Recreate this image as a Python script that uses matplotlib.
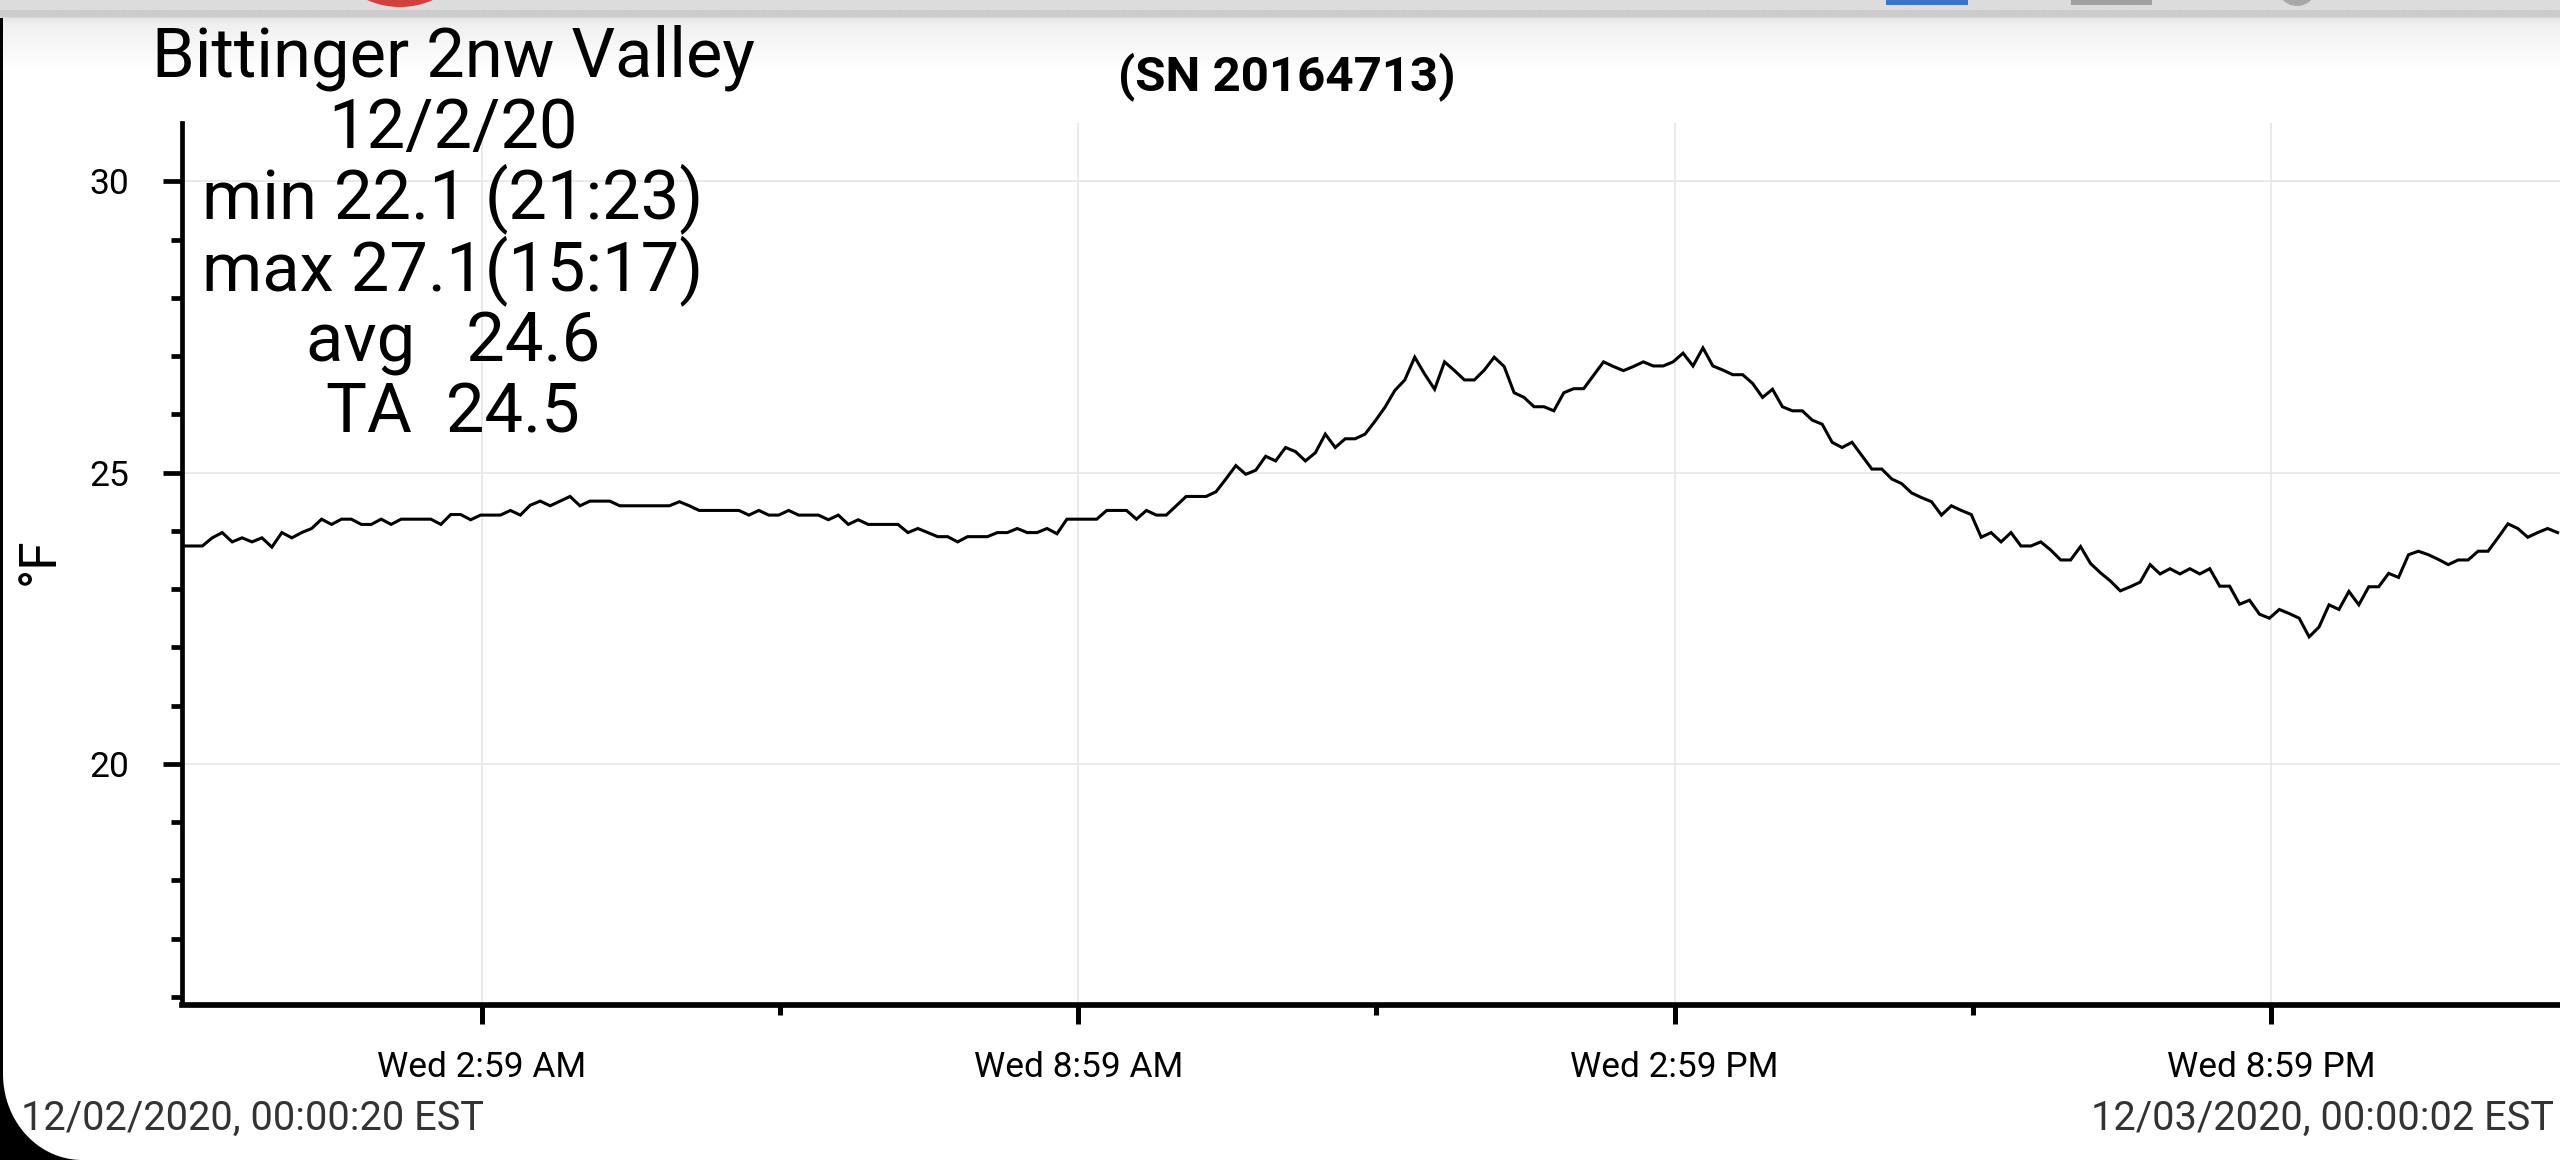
import numpy as np
import matplotlib
matplotlib.use("Agg")
import matplotlib.pyplot as plt
from matplotlib.patches import Rectangle, Circle, Polygon

plt.rcParams['font.family'] = ['Roboto', 'DejaVu Sans']

W, H = 2560, 1160

# ---------------- data / text ----------------
station = "Bittinger 2nw Valley"
date_label = "12/2/20"
stats_lines = ["min 22.1 (21:23)", "max 27.1(15:17)", "avg   24.6", "TA  24.5"]
serial = "(SN 20164713)"
start_label = "12/02/2020, 00:00:20 EST"
end_label = "12/03/2020, 00:00:02 EST"
y_label = "°F"

start_hour = 0.0056      # 00:00:20
step_hours = 0.1         # one reading every 6 minutes

temps_f = [
    23.74, 23.74, 23.74, 23.88, 23.97, 23.81, 23.88, 23.81, 23.88, 23.72,
    23.97, 23.88, 23.97, 24.04, 24.20, 24.11, 24.20, 24.20, 24.11, 24.11,
    24.20, 24.11, 24.20, 24.20, 24.20, 24.20, 24.11, 24.28, 24.28, 24.19,
    24.27, 24.27, 24.27, 24.35, 24.27, 24.44, 24.51, 24.43, 24.51, 24.59,
    24.43, 24.51, 24.51, 24.51, 24.43, 24.43, 24.43, 24.43, 24.43, 24.43,
    24.50, 24.43, 24.35, 24.35, 24.35, 24.35, 24.35, 24.27, 24.35, 24.27,
    24.27, 24.35, 24.27, 24.27, 24.27, 24.19, 24.27, 24.11, 24.19, 24.11,
    24.11, 24.11, 24.11, 23.97, 24.04, 23.97, 23.90, 23.90, 23.81, 23.90,
    23.90, 23.90, 23.97, 23.97, 24.04, 23.97, 23.97, 24.04, 23.95, 24.20,
    24.20, 24.20, 24.20, 24.35, 24.35, 24.35, 24.20, 24.35, 24.27, 24.27,
    24.43, 24.59, 24.59, 24.59, 24.67, 24.89, 25.12, 24.97, 25.04, 25.28,
    25.20, 25.43, 25.36, 25.20, 25.34, 25.66, 25.43, 25.58, 25.58, 25.66,
    25.88, 26.12, 26.41, 26.59, 26.98, 26.69, 26.43, 26.90, 26.75, 26.59,
    26.59, 26.76, 26.98, 26.82, 26.37, 26.29, 26.13, 26.13, 26.06, 26.37,
    26.44, 26.44, 26.67, 26.90, 26.82, 26.75, 26.82, 26.90, 26.83, 26.83,
    26.90, 27.05, 26.83, 27.14, 26.83, 26.76, 26.68, 26.68, 26.53, 26.29,
    26.43, 26.13, 26.06, 26.06, 25.90, 25.83, 25.52, 25.43, 25.52, 25.29,
    25.06, 25.06, 24.89, 24.81, 24.65, 24.57, 24.50, 24.27, 24.43, 24.35,
    24.28, 23.89, 23.97, 23.81, 23.97, 23.74, 23.74, 23.81, 23.67, 23.50,
    23.50, 23.73, 23.44, 23.28, 23.14, 22.97, 23.04, 23.12, 23.42, 23.26,
    23.35, 23.26, 23.35, 23.26, 23.35, 23.05, 23.05, 22.74, 22.81, 22.57,
    22.50, 22.65, 22.58, 22.50, 22.18, 22.35, 22.73, 22.65, 22.96, 22.73,
    23.04, 23.04, 23.27, 23.20, 23.59, 23.65, 23.59, 23.51, 23.42, 23.50,
    23.50, 23.65, 23.65, 23.88, 24.12, 24.04, 23.89, 23.97, 24.04, 23.97,
]

x_tick_hours = [3.02, 9.02, 15.02, 21.02]
x_tick_labels = ["Wed 2:59 AM", "Wed 8:59 AM", "Wed 2:59 PM", "Wed 8:59 PM"]
x_minor_hours = [6.02, 12.02, 18.02]
y_major = [20, 25, 30]
y_minor = [16, 17, 18, 19, 21, 22, 23, 24, 26, 27, 28, 29]

times = start_hour + step_hours * np.arange(len(temps_f))

# ---------------- figure ----------------
fig = plt.figure(figsize=(W / 100, H / 100), dpi=100)
fig.patch.set_facecolor('white')

def fx(x):
    return x / W

def fy(y):
    return 1 - y / H

# background (screen chrome gradient at top)
bg = fig.add_axes([0, 0, 1, 1], zorder=-5)
bg.set_xlim(0, W)
bg.set_ylim(H, 0)
bg.axis('off')
rows = np.arange(H)
shade = np.interp(rows, [0, 9, 10, 16, 18, 24, 30, 70, 1160],
                  [0.865, 0.865, 0.80, 0.80, 0.90, 0.94, 0.95, 1.0, 1.0])
grad = np.repeat(shade[:, None], 4, axis=1)
bg.imshow(np.dstack([grad, grad, grad]), extent=[0, W, H, 0], aspect='auto',
          interpolation='bilinear')

# main axes
L, T_, B_ = 181.7, 123.0, 1004.5
ax = fig.add_axes([fx(L), fy(B_), 1 - fx(L), (B_ - T_) / H], zorder=1)
ax.set_facecolor('none')
ax.plot(times, temps_f, color='black', lw=2.2, solid_joinstyle='miter', zorder=3)
ax.set_xlim(-0.002, 23.93)
ax.set_ylim(15.87, 31.0)

for s in ['top', 'right']:
    ax.spines[s].set_visible(False)
ax.spines['left'].set_linewidth(3.4)
ax.spines['bottom'].set_linewidth(4.1)

ax.set_xticks(x_tick_hours)
ax.set_xticklabels(x_tick_labels)
ax.set_xticks(x_minor_hours, minor=True)
ax.set_yticks(y_major)
ax.set_yticklabels([str(v) for v in y_major])
ax.set_yticks(y_minor, minor=True)

ax.tick_params(axis='y', which='major', length=13.5, width=3.4, pad=24, labelsize=25.5)
ax.tick_params(axis='y', which='minor', length=7.7, width=3.4)
ax.tick_params(axis='x', which='major', length=13.7, width=3.6, pad=20, labelsize=25.4)
ax.tick_params(axis='x', which='minor', length=7.0, width=3.6)
ax.grid(True, which='major', color='#e6e6e6', lw=1.2, zorder=0)
ax.set_axisbelow(True)

# texts
BIG = 49.5
fig.text(fx(453), fy(76.5), station, ha='center', va='baseline', fontsize=BIG)
fig.text(fx(453), fy(148), date_label, ha='center', va='baseline', fontsize=BIG)
for line, base in zip(stats_lines, [218, 290, 362, 432]):
    fig.text(fx(453), fy(base), line, ha='center', va='baseline', fontsize=BIG)
fig.text(fx(1286.5), fy(90), serial, ha='center', va='baseline', fontsize=35.5,
         fontweight='bold')
fig.text(fx(40), fy(561), y_label, ha='center', va='center', rotation=90, fontsize=37)
fig.text(fx(21), fy(1130), start_label, ha='left', va='baseline', fontsize=28.6,
         color='#333333')
fig.text(fx(2554), fy(1130), end_label, ha='right', va='baseline', fontsize=28.6,
         color='#333333')

# overlay: screen chrome (bezel corner, top icons)
ov = fig.add_axes([0, 0, 1, 1], zorder=10)
ov.set_xlim(0, W)
ov.set_ylim(H, 0)
ov.axis('off')
ov.patch.set_alpha(0)
ov.add_patch(Rectangle((0, 18), 3, H - 18, color='black', lw=0))
th = np.linspace(0, np.pi / 2, 40)
arc = np.column_stack([82 - 79 * np.cos(th), 1074 + 86 * np.sin(th)])
corner = np.vstack([[[0, 1074]], arc, [[0, H]]])
ov.add_patch(Polygon(corner, closed=True, color='black', lw=0))
ov.add_patch(Circle((400, -74), 81, color='#d23f3f', lw=0))
ov.add_patch(Rectangle((1886, 0), 82, 5, color='#3b73c8', lw=0))
ov.add_patch(Rectangle((2071, 0), 81, 5, color='#a0a0a0', lw=0))
ov.add_patch(Circle((2297, -14), 20, color='#a8a8a8', lw=0))

fig.savefig('out.png', dpi=100)
